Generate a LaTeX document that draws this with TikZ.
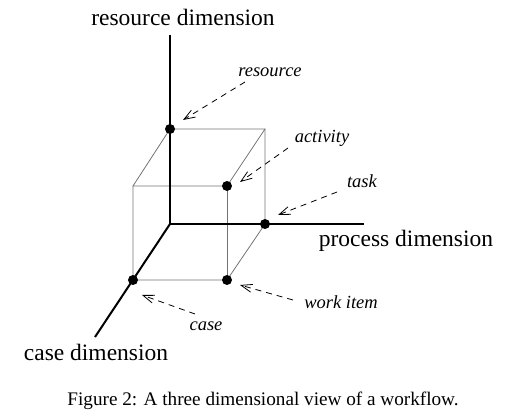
\documentclass[tikz,border=0pt]{standalone}
\usepackage{fontspec}
\setmainfont{Liberation Serif}
\usetikzlibrary{arrows.meta}
\begin{document}
\begin{tikzpicture}[x=1pt,y=-1pt,
  axis/.style={line width=2pt,black},
  edge/.style={line width=0.8pt,black!55},
  dot/.style={circle,fill=black,inner sep=0pt,minimum size=10pt},
  lead/.style={line width=0.8pt,dash pattern=on 6pt off 5pt,-{Straight Barb[length=11pt,width=8pt]}},
  lbl/.style={font=\fontsize{18.5}{20}\selectfont\itshape,inner sep=0pt},
  axlbl/.style={font=\fontsize{23.5}{26}\selectfont,inner sep=0pt}]
\useasboundingbox (0,0) rectangle (509,414);
% corner coordinates
\coordinate (O) at (170,224);
\coordinate (Rtop) at (170,35);
\coordinate (Pend) at (364,224);
\coordinate (Cend) at (95,337);
\coordinate (TBR) at (265,129);
\coordinate (TFL) at (133,186);
% cube edges
\draw[edge] (170,129) -- (TBR) -- (227,186) -- (TFL) -- cycle;
\draw[edge] (TFL) -- (133,280) -- (227,280) -- (265,224) -- (TBR);
\draw[edge] (227,186) -- (227,280);
% axes
\draw[axis] (O) -- (Rtop);
\draw[axis] (O) -- (Pend);
\draw[axis] (O) -- (Cend);
% dots
\node[dot] (res) at (170,129) {};
\node[dot] (act) at (227,186) {};
\node[dot] (task) at (265,224) {};
\node[dot] (case) at (133,280) {};
\node[dot] (wi) at (227,280) {};
% labels
\node[lbl] (lres) at (270,72) {resource};
\node[lbl] (lact) at (322,138) {activity};
\node[lbl] (ltask) at (362,181) {task};
\node[lbl] (lwi) at (341,302) {work item};
\node[lbl] (lcase) at (206,326) {case};
% leaders
\coordinate (tres) at (245,82);
\coordinate (hres) at (183,120);
\coordinate (tact) at (288,148);
\coordinate (hact) at (240,182);
\coordinate (ttask) at (337,192);
\coordinate (htask) at (278,215);
\coordinate (twi) at (293,300);
\coordinate (hwi) at (240,285);
\coordinate (tcase) at (195,314);
\coordinate (hcase) at (142,295);
\draw[lead] (tres) -- (hres);
\draw[lead] (tact) -- (hact);
\draw[lead] (ttask) -- (htask);
\draw[lead] (twi) -- (hwi);
\draw[lead] (tcase) -- (hcase);
% axis labels
\node[axlbl] (aR) at (183,17) {resource dimension};
\node[axlbl] (aP) at (406,241) {process dimension};
\node[axlbl] (aC) at (96,352) {case dimension};
% caption
\node[font=\fontsize{19.2}{22}\selectfont,inner sep=0pt] (cap) at (263,401) {Figure 2: A three dimensional view of a workflow.};
\end{tikzpicture}
\end{document}
